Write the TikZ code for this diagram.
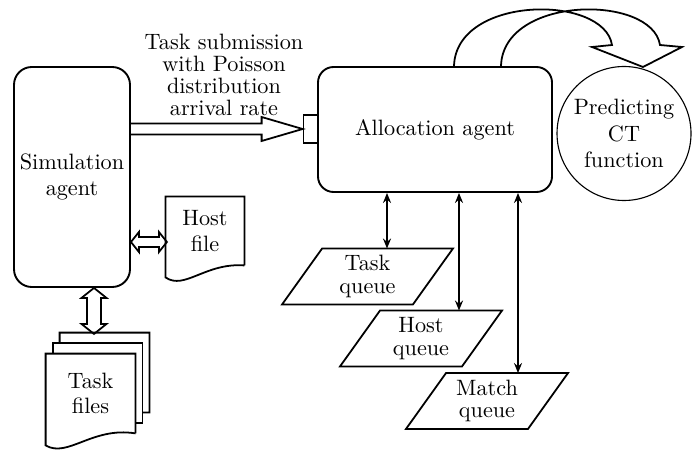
\documentclass[tikz,border=0pt]{standalone}
\usetikzlibrary{calc,arrows.meta,shapes.geometric}
\begin{document}
\begin{tikzpicture}[x=0.45pt,y=-0.45pt,
  agentbox/.style={draw,line width=0.85pt,rounded corners=7pt,inner sep=0pt,align=center},
  outl/.style={line width=0.8pt,line join=miter},
  qbox/.style={inner sep=0pt,minimum width=54.5pt,minimum height=24.75pt,align=center},
  link/.style={line width=0.85pt,{Stealth[length=4.5pt,width=3.6pt]}-{Stealth[length=4.5pt,width=3.6pt]}},
]
\useasboundingbox (0,0) rectangle (693,450);

% agents
\node[agentbox,rounded corners=8pt,minimum width=52.2pt,minimum height=99pt] (sa) at (72,177) {Simulation\\agent};
\node[agentbox,minimum width=105.3pt,minimum height=56.25pt] (aa) at (435,129.5) {Allocation agent};
\node[draw,line width=0.5pt,minimum width=6.6pt,minimum height=12.6pt,inner sep=0pt] (port) at (310.5,129) {};
\node[draw,circle,line width=0.5pt,minimum size=60.3pt,inner sep=0pt,align=center] (pc) at (624,133.5) {Predicting\\CT\\function};

% label
\node[align=center,font=\fontsize{10pt}{10pt}\selectfont] (lbl) at (224,75) {Task submission\\with Poisson\\distribution\\arrival rate};

% host file
\node[inner sep=0pt,minimum width=35.1pt,minimum height=30.6pt,align=center] (hf) at (205,231) {Host\\file};
\draw[outl] (hf.south east) -- (hf.north east) -- (hf.north west) -- ($(hf.south west)+(0,12)$) .. controls +(19,13) and +(-39,-3) .. (hf.south east);

% task files
\node[inner sep=0pt,minimum width=40pt,minimum height=35.5pt,align=center] (tf) at (90.5,393.5) {Task\\[-1pt]files};
\draw[outl] (tf.south east) -- (tf.north east) -- (tf.north west) -- ($(tf.south west)+(0,12)$) .. controls +(22,13) and +(-43,-7) .. (tf.south east);
\draw[outl] ($(tf.north west)+(7,0)$) -- ++(0,-10.5) -- ($(tf.north east)+(7,-10.5)$) -- ($(tf.south east)+(7,-10.5)$) -- ++(-7,0);
\draw[outl] ($(tf.north west)+(14,-10.5)$) -- ++(0,-10.5) -- ($(tf.north east)+(14,-21)$) -- ($(tf.south east)+(14,-21)$) -- ++(-7,0);

% hollow double arrows
\coordinate (va) at (94,0);
\draw[outl] (sa.south -| va) -- ++(-12.5,10) -- ++(5.5,0) -- ++(0,26) -- ++(-5.5,0) -- ++(12.5,10) -- ++(12.5,-10) -- ++(-5.5,0) -- ++(0,-26) -- ++(5.5,0) -- cycle;
\coordinate (ha) at (0,242);
\draw[outl] (sa.east |- ha) -- ++(8,-10) -- ++(0,5) -- ++(20,0) -- ++(0,-5) -- ++(8,10) -- ++(-8,10) -- ++(0,-5) -- ++(-20,0) -- ++(0,5) -- cycle;

% main hollow arrow
\draw[outl] ($(sa.east |- port.west)+(0,-5.5)$) -- ($(port.west)+(-41,-5.5)$) -- ++(0,-6.5) -- (port.west) -- ($(port.west)+(-41,12)$) -- ++(0,-6.5) -- ($(sa.east |- port.west)+(0,5.5)$);

% curved hollow arrow
\coordinate (tip) at (643,67);
\draw[outl] ($(aa.north)+(19,0)$) .. controls +(2,-71) and +(-8,-51) .. ($(tip)+(-31,-22)$) -- ($(tip)+(-51,-20)$) -- (tip) -- ($(tip)+(39,-20)$) -- ($(tip)+(17,-22)$) .. controls +(-8,-51) and +(2,-71) .. ($(aa.north)+(66,0)$);

% queues
\node[qbox,minimum width=58.5pt] (tq) at (367.5,276.5) {Task\\[-2pt]queue};
\node[qbox] (hq) at (421,338.5) {Host\\[-2pt]queue};
\node[qbox] (mq) at (487,401) {Match\\[-2pt]queue};
\foreach \n in {tq,hq,mq}
  \draw[outl] ($(\n.north west)+(20,0)$) -- ($(\n.north east)+(20,0)$) -- ($(\n.south east)+(-20,0)$) -- ($(\n.south west)+(-20,0)$) -- cycle;

% links
\coordinate (c1) at (387,0);
\coordinate (c2) at (459,0);
\coordinate (c3) at (518,0);
\draw[link] (aa.south -| c1) -- (tq.north -| c1);
\draw[link] (aa.south -| c2) -- (hq.north -| c2);
\draw[link] (aa.south -| c3) -- (mq.north -| c3);
\end{tikzpicture}
\end{document}
